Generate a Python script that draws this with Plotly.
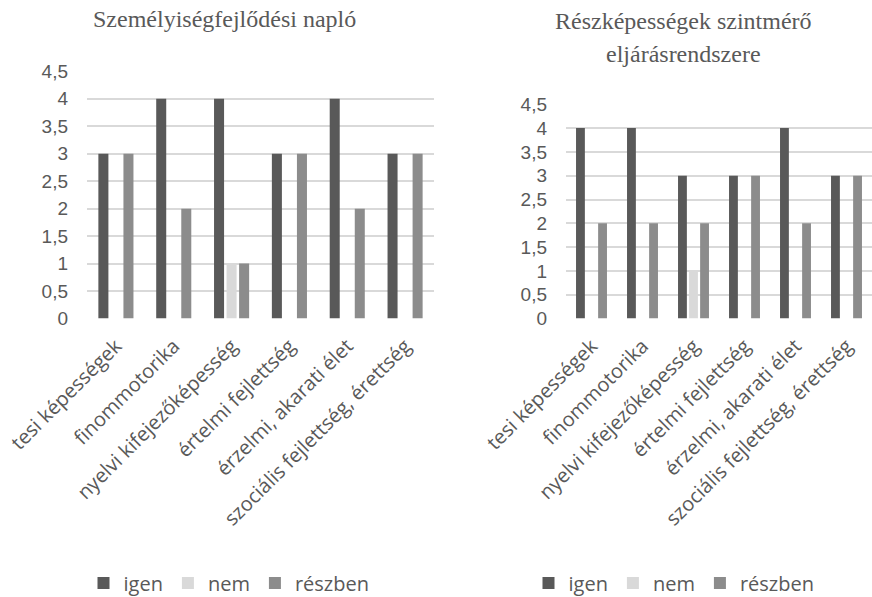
import plotly.graph_objects as go

categories = ["tesi képességek", "finommotorika", "nyelvi kifejezőképesség",
              "értelmi fejlettség", "érzelmi, akarati élet",
              "szociális fejlettség, érettség"]
series_names = ["igen", "nem", "részben"]

left_title = "Személyiségfejlődési napló"
left_igen = [3, 4, 4, 3, 4, 3]
left_nem = [0, 0, 1, 0, 0, 0]
left_reszben = [3, 2, 1, 3, 2, 3]

right_title_lines = ["Részképességek szintmérő", "eljárásrendszere"]
right_igen = [4, 4, 3, 3, 4, 3]
right_nem = [0, 0, 1, 0, 0, 0]
right_reszben = [2, 2, 2, 3, 2, 3]

y_ticks = [0, 0.5, 1, 1.5, 2, 2.5, 3, 3.5, 4, 4.5]

colors = ["#595959", "#d9d9d9", "#8c8c8c"]
W, H = 872, 597
text_col = "#595959"
grid_col = "#d9d9d9"

fig = go.Figure()
left_vals = [left_igen, left_nem, left_reszben]
right_vals = [right_igen, right_nem, right_reszben]
for name, vals, c in zip(series_names, left_vals, colors):
    fig.add_trace(go.Bar(x=categories, y=vals, name=name, marker_color=c,
                         marker_line_width=0, xaxis="x", yaxis="y",
                         legend="legend", offsetgroup=name + "L"))
for name, vals, c in zip(series_names, right_vals, colors):
    fig.add_trace(go.Bar(x=categories, y=vals, name=name, marker_color=c,
                         marker_line_width=0, xaxis="x2", yaxis="y2",
                         legend="legend2", offsetgroup=name + "R"))

def px_x(p):
    return p / W

def px_y(p):
    return 1 - p / H

xaxis_common = dict(type="category", tickangle=-45, showgrid=False,
                    showline=False, ticks="", automargin=False,
                    ticklabelstandoff=11,
                    tickfont=dict(family="Open Sans", size=20, color=text_col))
yaxis_common = dict(range=[0, 4.5], tickvals=y_ticks, showgrid=True,
                    gridcolor=grid_col, gridwidth=1.5, zeroline=False,
                    showline=False, ticks="", ticklabelstandoff=18,
                    automargin=False,
                    tickfont=dict(family="Liberation Sans", size=19, color=text_col))

legend_common = dict(orientation="h", xref="container", yref="container",
                     xanchor="center", yanchor="middle", y=px_y(583),
                     font=dict(family="Open Sans", size=20, color=text_col),
                     itemwidth=30, traceorder="normal",
                     bgcolor="rgba(0,0,0,0)")

fig.update_layout(
    template="none",
    width=W, height=H,
    margin=dict(l=0, r=0, t=0, b=0, autoexpand=False),
    paper_bgcolor="white", plot_bgcolor="white",
    separators=", ",
    barmode="group", bargap=0.35, bargroupgap=0.2,
    showlegend=True,
    xaxis=dict(domain=[px_x(87), px_x(434)], anchor="y", **xaxis_common),
    yaxis=dict(domain=[px_y(318.5), px_y(71.3)], anchor="x", **yaxis_common),
    xaxis2=dict(domain=[px_x(566), 1.0], anchor="y2", **xaxis_common),
    yaxis2=dict(domain=[px_y(318.5), px_y(104.3)], anchor="x2", **yaxis_common),
    legend=dict(x=px_x(229), **legend_common),
    legend2=dict(x=px_x(674), **legend_common),
)

title_font = dict(family="Liberation Serif", size=24, color=text_col)
fig.add_annotation(text=left_title, x=px_x(225), y=px_y(19), xref="paper",
                   yref="paper", showarrow=False, xanchor="center",
                   yanchor="middle", font=title_font)
for i, line in enumerate(right_title_lines):
    fig.add_annotation(text=line, x=px_x(683), y=px_y(21 + 33 * i), xref="paper",
                       yref="paper", showarrow=False, xanchor="center",
                       yanchor="middle", font=title_font)

fig.write_html(
    "out.html",
    config={"displayModeBar": False},
    post_script="document.body.style.margin='0px';"
                "document.body.style.overflow='hidden';",
)
